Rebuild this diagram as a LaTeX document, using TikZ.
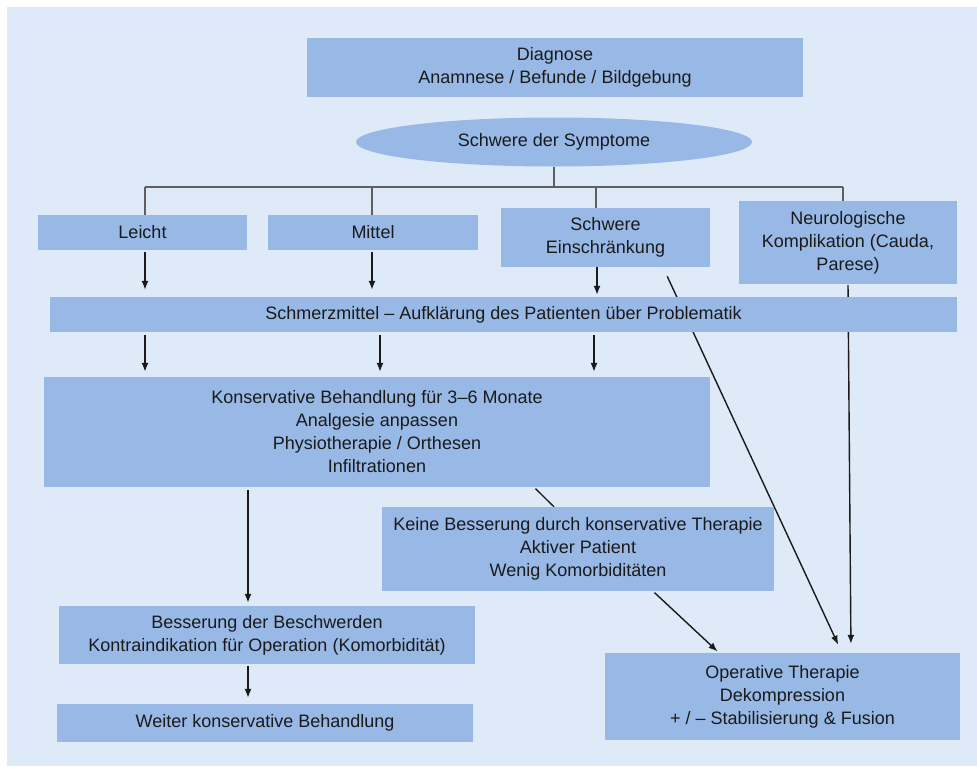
\documentclass[tikz,border=0pt]{standalone}
\usepackage{fontspec}
\setmainfont{Liberation Sans}
\usepackage{tikz}
\usetikzlibrary{shapes.geometric,backgrounds}
\usetikzlibrary{arrows.meta,positioning}

\definecolor{panel}{RGB}{222,234,248}
\definecolor{boxblue}{RGB}{152,185,230}
\definecolor{ink}{RGB}{26,26,26}
\definecolor{treegray}{RGB}{95,95,95}

\begin{document}
\begin{tikzpicture}[x=1pt,y=-1pt,
  font=\fontsize{18}{23}\selectfont,
  box/.style  = {fill=boxblue, text=ink, align=center, inner sep=0pt},
  oval/.style = {ellipse, fill=boxblue, text=ink, inner sep=0pt},
  arr/.style  = {-{Latex[length=9pt,width=7pt]}, line width=1.4pt, draw=ink},
  tline/.style= {line width=1.1pt, draw=treegray}
                        ]
\useasboundingbox (0,0) rectangle (977,766);
%
\node (diag)    [box, minimum width=496, minimum height=59] at (555,67.5)
        {Diagnose\\Anamnese / Befunde / Bildgebung};
\node (sym)     [oval, minimum width=396, minimum height=49] at (554,142)
        {Schwere der Symptome};
%
\node (leicht)  [box, minimum width=209, minimum height=35] at (142.5,232.5) {Leicht};
\node (mittel)  [box, minimum width=210, minimum height=35] at (373,232.5)   {Mittel};
\node (schwer)  [box, minimum width=209, minimum height=59] at (605.5,237.5)
        {Schwere\\Einschränkung};
\node (neuro)   [box, minimum width=218, minimum height=83] at (848,242.5)
        {Neurologische\\Komplikation (Cauda,\\Parese)};
%
\node (schmerz) [box, minimum width=907, minimum height=35] at (503.5,314.5)
        {Schmerzmittel – Aufklärung des Patienten über Problematik};
\node (kons)    [box, minimum width=666, minimum height=110] at (377,432)
        {Konservative Behandlung für 3–6 Monate\\Analgesie anpassen\\
         Physiotherapie / Orthesen\\Infiltrationen};
\node (keine)   [box, minimum width=392, minimum height=84] at (578,549)
        {Keine Besserung durch konservative Therapie\\Aktiver Patient\\
         Wenig Komorbiditäten};
\node (besser)  [box, minimum width=416, minimum height=58] at (267,635)
        {Besserung der Beschwerden\\Kontraindikation für Operation (Komorbidität)};
\node (weiter)  [box, minimum width=416, minimum height=38] at (265,723)
        {Weiter konservative Behandlung};
\node (oper)    [box, minimum width=355, minimum height=87] at (782.5,696.5)
        {Operative Therapie\\Dekompression\\+ / – Stabilisierung \& Fusion};
%
\begin{pgfonlayer}{background}
\fill[white] (0,0) rectangle (977,766);
\fill[panel] (7,7) rectangle (977,766);
%
\coordinate (bar) at (0,187);
\draw[tline] (sym.south) -- (sym.south |- bar);
\draw[tline] ([xshift=2.5]leicht.north |- bar) -- ([xshift=-5]neuro.north |- bar);
\foreach \n/\dx in {leicht/2.5, mittel/-1, schwer/-9.5, neuro/-5}
    \draw[tline] ([xshift=\dx]\n.north) -- ([xshift=\dx]\n.north |- bar);
%
\foreach \n/\dx in {leicht/2.5, mittel/-1}
    \draw[arr, shorten <=2pt, shorten >=7pt]
        ([xshift=\dx]\n.south) -- ([xshift=\dx]\n.south |- schmerz.north);
\draw[arr, shorten >=2pt] ([xshift=-8.5]schwer.south) -- ([xshift=-8.5]schwer.south |- schmerz.north);
%
\foreach \x [count=\i] in {145,380,594} {
    \coordinate (s\i) at (\x,0);
    \draw[arr, shorten <=3pt, shorten >=5pt] (schmerz.south -| s\i) -- (kons.north -| s\i);
}
%
\draw[arr, shorten <=3pt, shorten >=3pt] ([xshift=-19]besser.north |- kons.south) -- ([xshift=-19]besser.north);
\draw[arr, shorten <=2pt, shorten >=6pt] ([xshift=-19]besser.south) -- ([xshift=-19]besser.south |- weiter.north);
\draw[line width=1.3pt, ink, shorten <=2pt] ([xshift=157]kons.south) -- ([xshift=-24]keine.north);
\draw[arr, shorten <=2pt, shorten >=2pt] ([xshift=75]keine.south) -- ([xshift=-63.5]oper.north);
\draw[arr, shorten <=10pt, shorten >=9pt] ([xshift=57.5]schwer.south) -- ([xshift=59.5]oper.north);
\draw[arr, shorten <=1pt, shorten >=9pt] (neuro.south) -- ([xshift=68.5]oper.north);
\end{pgfonlayer}
\end{tikzpicture}
\end{document}
